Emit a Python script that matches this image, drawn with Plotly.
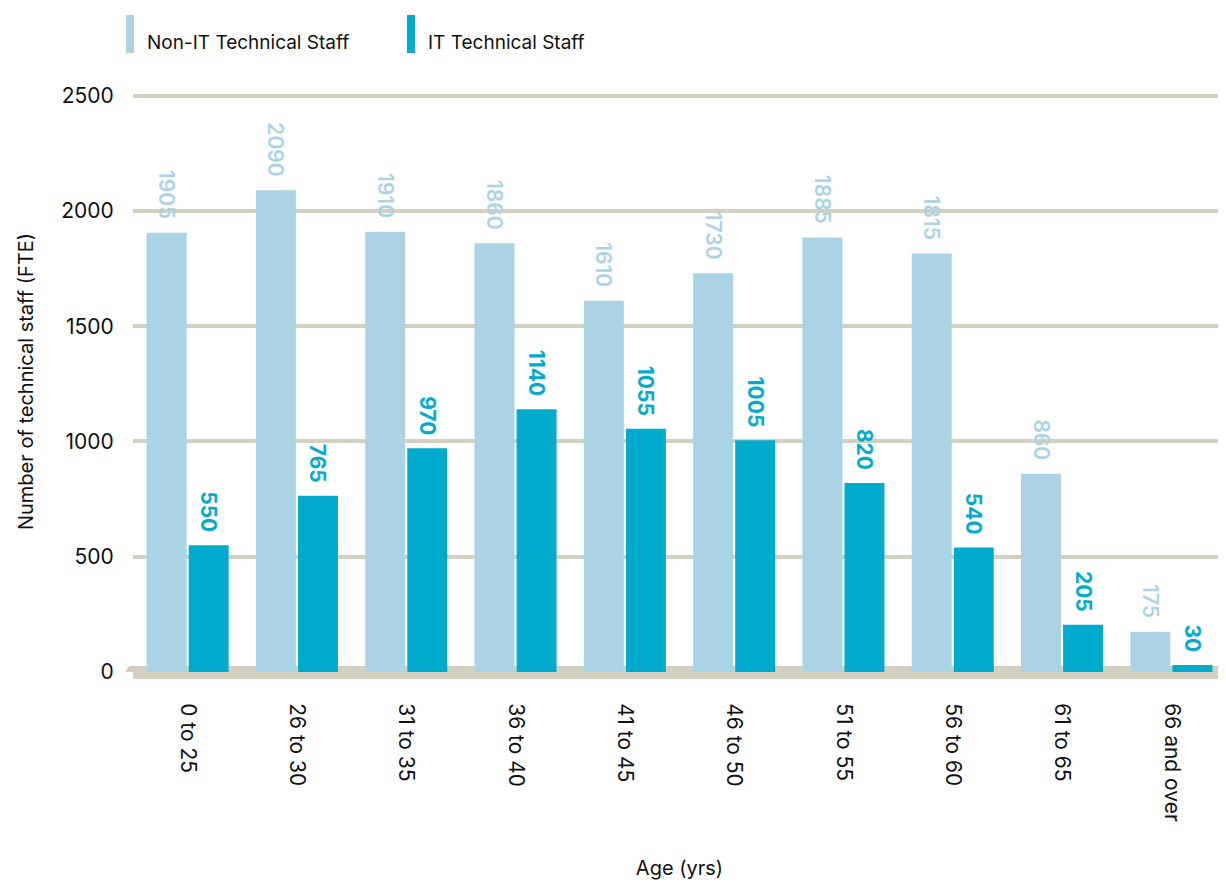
import plotly.graph_objects as go

categories = ["0 to 25", "26 to 30", "31 to 35", "36 to 40", "41 to 45",
              "46 to 50", "51 to 55", "56 to 60", "61 to 65", "66 and over"]
non_it = [1905, 2090, 1910, 1860, 1610, 1730, 1885, 1815, 860, 175]
it_staff = [550, 765, 970, 1140, 1055, 1005, 820, 540, 205, 30]
y_ticks = [0, 500, 1000, 1500, 2000, 2500]

C_NONIT = "#aad4e5"
C_IT = "#00abcd"
GRID = "#d3d0bf"
FONT = "Inter"

W, H = 1218, 875
ML, MT, MB = 125, 83, 211
PW = W - ML
PH = H - MT - MB
Y_TOP = 2520

def px_x(x):  # page x -> paper coordinate
    return (x - 8 - ML) / PW

def px_y(y):  # page y -> paper coordinate
    return (H - MB - (y - 8)) / PH

pad = "\u00a0\u00a0"
fig = go.Figure()
fig.add_bar(x=categories, y=non_it, name="Non-IT Technical Staff",
            marker=dict(color=C_NONIT, line=dict(width=0)),
            text=[str(v) + pad for v in non_it], textposition="outside", textangle=90,
            constraintext="none",
            textfont=dict(color=C_NONIT, size=21, family=FONT, weight=600),
            cliponaxis=False, showlegend=False)
fig.add_bar(x=categories, y=it_staff, name="IT Technical Staff",
            marker=dict(color=C_IT, line=dict(width=0)),
            text=[str(v) + pad for v in it_staff], textposition="outside", textangle=90,
            constraintext="none",
            textfont=dict(color=C_IT, size=21, family=FONT, weight="bold"),
            cliponaxis=False, showlegend=False)

# custom legend
legend_items = [("Non-IT Technical Staff", C_NONIT, 126), ("IT Technical Staff", C_IT, 407)]
for label, col, x0 in legend_items:
    fig.add_shape(type="rect", xref="paper", yref="paper",
                  x0=px_x(x0), x1=px_x(x0 + 8),
                  y0=px_y(53), y1=px_y(15),
                  fillcolor=col, line=dict(width=0))
    fig.add_annotation(text=label, xref="paper", yref="paper",
                       x=px_x(x0 + 19), y=px_y(43),
                       xanchor="left", yanchor="middle", showarrow=False,
                       font=dict(size=19, color="#111111", family=FONT))

# rounded end of baseline
fig.add_shape(type="circle", xref="paper", yref="y",
              x0=px_x(126), x1=px_x(139),
              y0=-28, y1=28, fillcolor=GRID, line=dict(width=0), layer="below")

fig.update_layout(
    width=W, height=H,
    margin=dict(l=ML, r=0, t=MT, b=MB),
    paper_bgcolor="white", plot_bgcolor="white",
    barmode="group", bargap=0.23, bargroupgap=0.05,
    font=dict(family=FONT, size=21, color="#111111"),
    xaxis=dict(title=dict(text="Age (yrs)", standoff=40, font=dict(size=20)),
               tickangle=90, ticks="outside", ticklen=26, tickcolor="rgba(0,0,0,0)",
               tickfont=dict(size=21), showgrid=False, showline=False, zeroline=False,
               automargin=False),
    yaxis=dict(title=dict(text="Number of technical staff (FTE)", standoff=22, font=dict(size=20)),
               range=[0, Y_TOP], tickvals=y_ticks, ticks="outside", ticklen=14,
               tickcolor="rgba(0,0,0,0)", tickfont=dict(size=21),
               showgrid=True, gridcolor=GRID, gridwidth=4,
               zeroline=True, zerolinecolor=GRID, zerolinewidth=13,
               showline=False, automargin=False),
)

fig.write_html("out.html")
